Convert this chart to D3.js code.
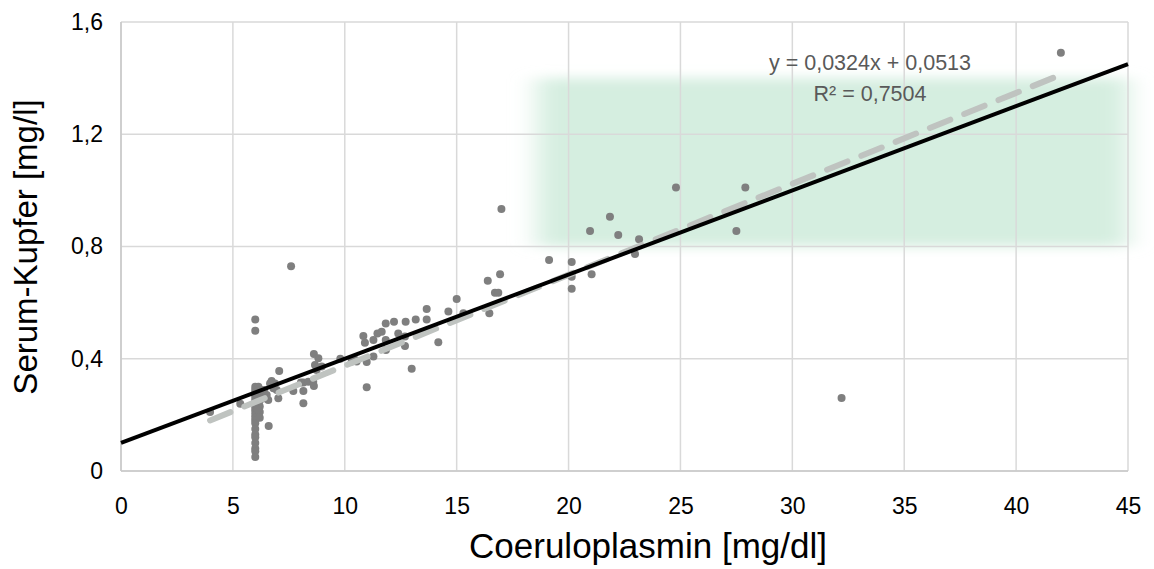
<!DOCTYPE html>
<html>
<head>
<meta charset="utf-8">
<script src="https://cdn.jsdelivr.net/npm/d3@7"></script>
<style>
  body { margin: 0; background: #fff; }
  text { font-family: "Liberation Sans", Arial, sans-serif; }
</style>
</head>
<body>
<svg id="chart" width="1154" height="569"></svg>
<script>
// Data
const coeruloplasmin = [
  3.98, 5.33, 6.0, 6.0,
  6.0, 6.0, 6.0, 6.0, 6.0, 6.0, 6.0, 6.0, 6.0, 6.0, 6.0, 6.0, 6.0, 6.0, 6.0, 6.0, 6.0, 6.0, 6.0, 6.0, 6.0,
  6.2, 6.2, 6.2, 6.2, 6.2, 6.2, 6.1, 6.1,
  6.14, 6.21, 6.4, 6.51, 6.58, 6.43, 6.6, 6.73, 6.88, 6.66, 6.81, 6.96, 7.03, 7.07,
  7.6, 7.7, 8.04, 8.15, 8.15, 8.15, 8.37, 8.59, 8.62, 8.62, 8.82, 8.67, 8.74, 8.97,
  9.8, 10.31, 10.46, 10.53, 10.31, 10.98, 11.28, 10.98, 10.83, 10.9, 11.28, 11.46, 11.65,
  11.83, 12.2, 12.72, 11.83, 11.84, 12.39, 12.69, 12.69, 13.17, 13.66, 13.66, 12.99,
  14.18, 14.63, 15.0, 15.3, 16.46, 16.39, 16.71, 16.86, 16.94, 17.0,
  19.13, 20.14, 20.14, 20.14, 21.03, 20.96, 21.85, 22.22, 23.15, 22.97,
  24.8, 27.9, 27.5, 32.2, 42.0
]
const serumKupfer = [
  0.21, 0.24, 0.54, 0.50,
  0.30, 0.29, 0.28, 0.27, 0.26, 0.25, 0.24, 0.23, 0.22, 0.21, 0.20, 0.19, 0.18, 0.17, 0.15, 0.13, 0.12, 0.10, 0.08, 0.07, 0.05,
  0.29, 0.27, 0.25, 0.23, 0.21, 0.19, 0.26, 0.22,
  0.30, 0.289, 0.289, 0.271, 0.253, 0.259, 0.16, 0.321, 0.312, 0.312, 0.295, 0.289, 0.259, 0.356,
  0.73, 0.285, 0.315, 0.285, 0.241, 0.315, 0.318, 0.318, 0.303, 0.417, 0.402, 0.378, 0.36, 0.372,
  0.40, 0.399, 0.396, 0.39, 0.39, 0.388, 0.408, 0.298, 0.481, 0.457, 0.467, 0.49, 0.496,
  0.526, 0.532, 0.532, 0.467, 0.431, 0.49, 0.479, 0.445, 0.54, 0.54, 0.577, 0.364,
  0.459, 0.568, 0.613, 0.562, 0.562, 0.678, 0.635, 0.635, 0.701, 0.934,
  0.752, 0.745, 0.692, 0.649, 0.701, 0.855, 0.906, 0.841, 0.826, 0.773,
  1.01, 1.01, 0.855, 0.26, 1.49
]
const xTicks = [0, 5, 10, 15, 20, 25, 30, 35, 40, 45]
const yTicks = [0, 0.4, 0.8, 1.2, 1.6]
// Excel trendline and reference line
const trend = { slope: 0.0324, intercept: 0.0513, r2: 0.7504, from: 3.98, to: 42.0 }
const reference = { slope: 0.03, intercept: 0.1 }
// shaded normal range
const normalX = [18.6, 45]
const normalY = [0.8, 1.4]

const width = 1154, height = 569
const margin = { top: 22, right: 26, bottom: 98, left: 121 }
const chartWidth = width - margin.left - margin.right
const chartHeight = height - margin.top - margin.bottom

const svg = d3.select('#chart')

const x = d3.scaleLinear().domain([0, 45]).range([margin.left, margin.left + chartWidth])
const y = d3.scaleLinear().domain([0, 1.6]).range([margin.top + chartHeight, margin.top])
const fmt = d => d3.format('.1f')(d).replace('.', ',').replace(/,0$/, '')

// blurred green band
const defs = svg.append('defs')
defs.append('filter')
    .attr('id', 'soft')
    .attr('x', '-20%').attr('y', '-40%').attr('width', '140%').attr('height', '180%')
  .append('feGaussianBlur')
    .attr('stdDeviation', '13 6')

svg.append('rect')
    .attr('x', x(normalX[0]))
    .attr('y', y(normalY[1]))
    .attr('width', x(normalX[1]) - x(normalX[0]))
    .attr('height', y(normalY[0]) - y(normalY[1]))
    .attr('fill', '#d5eee0')
    .attr('filter', 'url(#soft)')

// gridlines
svg.append('g').selectAll('line.gx')
    .data(xTicks)
    .enter().append('line')
    .attr('x1', d => x(d)).attr('x2', d => x(d))
    .attr('y1', y(0)).attr('y2', y(1.6))
    .attr('stroke', '#d9d9d9').attr('stroke-width', 1.5)

svg.append('g').selectAll('line.gy')
    .data(yTicks)
    .enter().append('line')
    .attr('x1', x(0)).attr('x2', x(45))
    .attr('y1', d => y(d)).attr('y2', d => y(d))
    .attr('stroke', '#d9d9d9').attr('stroke-width', 1.5)

svg.append('line')
    .attr('x1', x(0)).attr('x2', x(0)).attr('y1', y(0)).attr('y2', y(1.6))
    .attr('stroke', '#c8c8c8').attr('stroke-width', 1.5)
svg.append('line')
    .attr('x1', x(0)).attr('x2', x(45)).attr('y1', y(0)).attr('y2', y(0))
    .attr('stroke', '#c8c8c8').attr('stroke-width', 1.5)

// axes labels via d3 axes, lines hidden
const xAxis = svg.append('g')
    .attr('transform', `translate(0,${y(0)})`)
    .call(d3.axisBottom(x).tickValues(xTicks).tickFormat(d => d).tickSize(0).tickPadding(27))
xAxis.select('.domain').remove()
xAxis.selectAll('text').attr('font-size', 23).attr('fill', '#000')
    .attr('font-family', '"Liberation Sans", Arial, sans-serif')

const yAxis = svg.append('g')
    .attr('transform', `translate(${x(0)},0)`)
    .call(d3.axisLeft(y).tickValues(yTicks).tickFormat(fmt).tickSize(0).tickPadding(18))
yAxis.select('.domain').remove()
yAxis.selectAll('text').attr('font-size', 23).attr('fill', '#000')
    .attr('font-family', '"Liberation Sans", Arial, sans-serif')

// points
const points = d3.zip(coeruloplasmin, serumKupfer)
svg.append('g').selectAll('circle')
    .data(points)
    .enter().append('circle')
    .attr('cx', d => x(d[0]))
    .attr('cy', d => y(d[1]))
    .attr('r', 4)
    .attr('fill', '#7f7f7f')

// trendline (dashed)
svg.append('line')
    .attr('x1', x(trend.from)).attr('y1', y(trend.slope * trend.from + trend.intercept))
    .attr('x2', x(trend.to)).attr('y2', y(trend.slope * trend.to + trend.intercept))
    .attr('stroke', '#bfc3c0').attr('stroke-width', 6)
    .attr('stroke-dasharray', '22,15').attr('stroke-linecap', 'round')

// reference line
svg.append('line')
    .attr('x1', x(0)).attr('y1', y(reference.intercept))
    .attr('x2', x(45)).attr('y2', y(reference.slope * 45 + reference.intercept))
    .attr('stroke', '#000').attr('stroke-width', 4)

// equation
const eq = svg.append('g')
    .attr('font-family', 'Lato, "Open Sans", sans-serif')
    .attr('font-size', 21.5).attr('fill', '#595959').attr('text-anchor', 'middle')
eq.append('text').attr('x', 870).attr('y', 70)
    .text('y = ' + String(trend.slope).replace('.', ',') + 'x + ' + String(trend.intercept).replace('.', ','))
eq.append('text').attr('x', 870).attr('y', 101)
    .text('R² = ' + String(trend.r2).replace('.', ','))

// titles
svg.append('text')
    .attr('x', 648).attr('y', 558)
    .attr('text-anchor', 'middle').attr('font-size', 35)
    .text('Coeruloplasmin [mg/dl]')
svg.append('text')
    .attr('transform', `translate(37,${247}) rotate(-90)`)
    .attr('text-anchor', 'middle').attr('font-size', 33)
    .text('Serum-Kupfer [mg/l]')
</script>
</body>
</html>
